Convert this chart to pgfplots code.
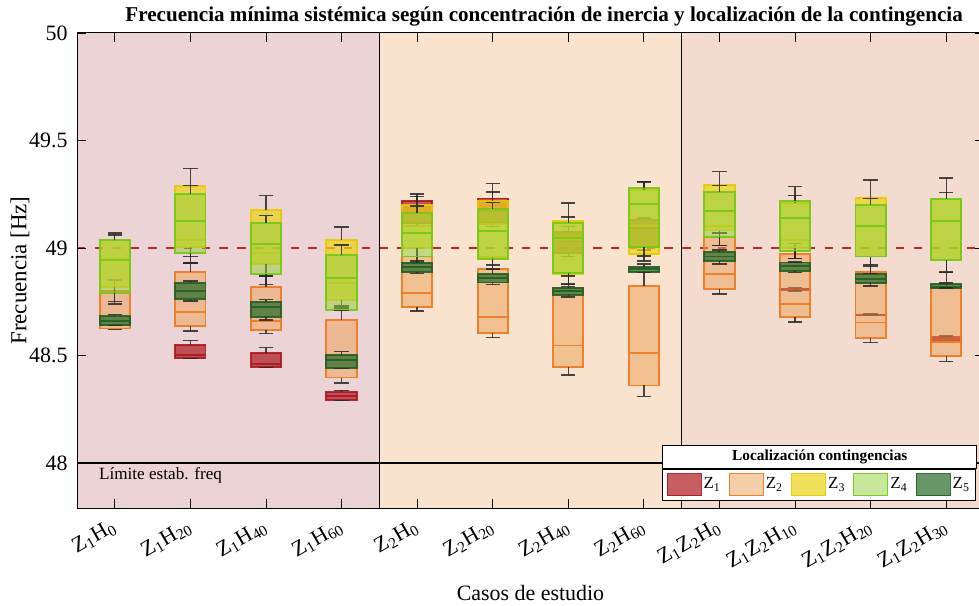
\documentclass[border=0pt]{standalone}
\usepackage{fontspec}
\setmainfont{Liberation Serif}
\usepackage{pgfplots}
\pgfplotsset{compat=1.18}
\usetikzlibrary{calc}
\definecolor{bga}{RGB}{236,211,213}
\definecolor{bgb}{RGB}{249,227,207}
\definecolor{bgc}{RGB}{243,219,208}
\definecolor{z1f}{RGB}{175,25,30}
\definecolor{z1d}{RGB}{170,25,35}
\definecolor{z2f}{RGB}{237,160,85}
\definecolor{z2d}{RGB}{237,125,35}
\definecolor{z3f}{RGB}{235,212,20}
\definecolor{z3d}{RGB}{232,200,0}
\definecolor{z4f}{RGB}{145,209,59}
\definecolor{z4d}{RGB}{120,200,25}
\definecolor{z5f}{RGB}{40,106,40}
\definecolor{z5d}{RGB}{35,95,35}
\definecolor{wh}{RGB}{40,40,40}
\definecolor{redl}{RGB}{192,40,40}
\pgfplotsset{
  z1/.style={draw=z1d, fill=z1f, fill opacity=0.7, draw opacity=0.9},
  z2/.style={draw=z2d, fill=z2f, fill opacity=0.5, draw opacity=0.95},
  z3/.style={draw=z3d, fill=z3f, fill opacity=0.7, draw opacity=0.9},
  z4/.style={draw=z4d, fill=z4f, fill opacity=0.5, draw opacity=0.95},
  z5/.style={draw=z5d, fill=z5f, fill opacity=0.7, draw opacity=0.9},
  whk/.style={draw=wh, draw opacity=0.85, line width=0.7bp, forget plot},
}
% #1 style, #2 position, #3 lower whisker, #4 lower quartile, #5 median, #6 upper quartile, #7 upper whisker
\newcommand{\bx}[7]{%
  \pgfmathsetmacro\bxl{#2-0.2}%
  \pgfmathsetmacro\bxr{#2+0.2}%
  \pgfmathsetmacro\cxl{#2-0.095}%
  \pgfmathsetmacro\cxr{#2+0.095}%
  \edef\bxdoit{%
    \noexpand\addplot[#1, forget plot, line width=0.95bp] coordinates {(\bxl,#4) (\bxr,#4) (\bxr,#6) (\bxl,#6)} --cycle;
    \noexpand\addplot[#1, forget plot, fill=none, line width=0.95bp] coordinates {(\bxl,#5) (\bxr,#5)};
    \noexpand\addplot[whk] coordinates {(#2,#3) (#2,#4)};
    \noexpand\addplot[whk] coordinates {(#2,#6) (#2,#7)};
    \noexpand\addplot[whk] coordinates {(\cxl,#3) (\cxr,#3)};
    \noexpand\addplot[whk] coordinates {(\cxl,#7) (\cxr,#7)};
  }\bxdoit}
\begin{document}
\begin{tikzpicture}
\begin{axis}[
  at={(0,0)}, anchor=south west,
  width=453.5bp, height=237.5bp, scale only axis,
  xmin=0.5, xmax=12.5, ymin=47.79, ymax=50,
  axis on top,
  xtick={1,2,3,4,5,6,7,8,9,10,11,12},
  xticklabels={{Z\textsubscript{1}H\textsubscript{0}},{Z\textsubscript{1}H\textsubscript{20}},{Z\textsubscript{1}H\textsubscript{40}},{Z\textsubscript{1}H\textsubscript{60}},{Z\textsubscript{2}H\textsubscript{0}},{Z\textsubscript{2}H\textsubscript{20}},{Z\textsubscript{2}H\textsubscript{40}},{Z\textsubscript{2}H\textsubscript{60}},{Z\textsubscript{1}Z\textsubscript{2}H\textsubscript{0}},{Z\textsubscript{1}Z\textsubscript{2}H\textsubscript{10}},{Z\textsubscript{1}Z\textsubscript{2}H\textsubscript{20}},{Z\textsubscript{1}Z\textsubscript{2}H\textsubscript{30}}},
  ytick={48,48.5,49,49.5,50},
  yticklabels={48,48.5,49,49.5,50},
  tick align=inside, major tick length=4.5bp,
  tick style={black, line width=0.4bp},
  axis line style={black, line width=0.5bp},
  xticklabel style={font=\fontsize{11}{13}\selectfont, yshift=-8.5bp, rotate=30, anchor=east, inner sep=0pt},
  yticklabel style={font=\fontsize{11}{13}\selectfont, inner sep=0pt, xshift=-4.5bp},
  xlabel={Casos de estudio},
  xlabel style={font=\fontsize{11}{13}\selectfont, at={(axis description cs:0.5,-0.1937)}, anchor=base},
  ylabel={Frecuencia [Hz]},
  ylabel style={font=\fontsize{11.5}{13}\selectfont, at={(axis description cs:-0.0628,0.5)}, anchor=center, rotate=0},
  title={Frecuencia mínima sistémica según concentración de inercia y localización de la contingencia},
  every axis title/.style={font=\fontsize{10.6}{12}\bfseries, at={(axis description cs:0.515,1)}, anchor=base, yshift=5.5bp},
  legend columns=5,
  legend image code/.code={\draw[#1] (0bp,-5.5bp) rectangle (17bp,5.5bp);},
  legend style={name=leg, at={(rel axis cs:0.9917,0.015)}, anchor=south east, draw=black, line width=0.5bp, font=\fontsize{8.5}{9}\selectfont, inner sep=2bp, /tikz/every even column/.append style={column sep=3bp}, nodes={inner sep=1bp}},
]
\fill[bga] (axis cs:0.5,47.79) rectangle (axis cs:4.5,50);
\fill[bgb] (axis cs:4.5,47.79) rectangle (axis cs:8.5,50);
\fill[bgc] (axis cs:8.5,47.79) rectangle (axis cs:12.5,50);
\draw[black, line width=0.75bp] (axis cs:4.5,47.79) -- (axis cs:4.5,50);
\draw[black, line width=0.75bp] (axis cs:8.5,47.79) -- (axis cs:8.5,50);
\addplot[forget plot, black, line width=1bp] coordinates {(0.5,48) (12.5,48)};
\addplot[forget plot, redl, line width=1.25bp, dash pattern=on 4.2bp off 4.7bp] coordinates {(0.5,49) (12.5,49)};
\node[anchor=base west, font=\fontsize{8.6}{10}\selectfont] at (axis cs:0.7,47.921) {Límite estab. freq};
% Z1
\bx{z1}{2}{48.485}{48.488}{48.50}{48.549}{48.57}
\bx{z1}{3}{48.445}{48.447}{48.46}{48.513}{48.536}
\bx{z1}{4}{48.29}{48.293}{48.31}{48.33}{48.337}
\bx{z1}{5}{49.10}{49.115}{49.16}{49.219}{49.24}
\bx{z1}{6}{49.10}{49.115}{49.17}{49.23}{49.26}
\bx{z1}{7}{48.96}{48.978}{49.03}{49.076}{49.10}
\bx{z1}{8}{48.99}{49.003}{49.092}{49.13}{49.14}
\bx{z1}{10}{48.80}{48.806}{48.807}{48.808}{48.815}
\bx{z1}{11}{48.685}{48.687}{48.688}{48.689}{48.692}
\bx{z1}{12}{48.56}{48.567}{48.577}{48.585}{48.59}
% Z2
\bx{z2}{1}{48.62}{48.625}{48.66}{48.80}{48.85}
\bx{z2}{2}{48.614}{48.637}{48.70}{48.89}{48.93}
\bx{z2}{3}{48.603}{48.617}{48.659}{48.817}{48.87}
\bx{z2}{4}{48.371}{48.397}{48.48}{48.664}{48.72}
\bx{z2}{5}{48.707}{48.727}{48.789}{48.96}{49.0}
\bx{z2}{6}{48.583}{48.606}{48.678}{48.904}{48.95}
\bx{z2}{7}{48.409}{48.445}{48.546}{48.815}{48.87}
\bx{z2}{8}{48.31}{48.36}{48.513}{48.822}{48.89}
\bx{z2}{9}{48.785}{48.808}{48.878}{49.05}{49.07}
\bx{z2}{10}{48.656}{48.678}{48.738}{48.97}{49.02}
\bx{z2}{11}{48.56}{48.583}{48.653}{48.89}{48.92}
\bx{z2}{12}{48.473}{48.496}{48.564}{48.813}{48.89}
% Z3
\bx{z3}{1}{48.75}{48.82}{48.95}{49.037}{49.06}
\bx{z3}{2}{48.96}{49.006}{49.037}{49.29}{49.37}
\bx{z3}{3}{48.87}{48.924}{48.975}{49.175}{49.243}
\bx{z3}{4}{48.73}{48.758}{48.836}{49.037}{49.098}
\bx{z3}{5}{48.96}{48.999}{49.10}{49.20}{49.25}
\bx{z3}{6}{48.90}{48.957}{49.11}{49.22}{49.30}
\bx{z3}{7}{48.83}{48.878}{49.04}{49.126}{49.209}
\bx{z3}{8}{48.94}{48.97}{49.10}{49.27}{49.31}
\bx{z3}{9}{49.011}{49.081}{49.104}{49.293}{49.355}
\bx{z3}{10}{48.95}{49.0}{49.037}{49.21}{49.245}
\bx{z3}{11}{48.88}{48.96}{49.10}{49.231}{49.316}
\bx{z3}{12}{48.887}{48.944}{49.124}{49.226}{49.326}
% Z4
\bx{z4}{1}{48.74}{48.789}{48.944}{49.037}{49.07}
\bx{z4}{2}{48.93}{48.975}{49.127}{49.25}{49.29}
\bx{z4}{3}{48.83}{48.878}{49.02}{49.118}{49.15}
\bx{z4}{4}{48.71}{48.712}{48.859}{48.967}{49.013}
\bx{z4}{5}{48.93}{48.96}{49.071}{49.161}{49.195}
\bx{z4}{6}{48.92}{48.947}{49.08}{49.18}{49.21}
\bx{z4}{7}{48.833}{48.885}{49.045}{49.118}{49.143}
\bx{z4}{8}{48.963}{49.003}{49.203}{49.28}{49.307}
\bx{z4}{9}{49.011}{49.05}{49.172}{49.259}{49.29}
\bx{z4}{10}{48.95}{48.987}{49.138}{49.22}{49.285}
\bx{z4}{11}{48.915}{48.96}{49.10}{49.20}{49.23}
\bx{z4}{12}{48.887}{48.944}{49.124}{49.226}{49.259}
% Z5
\bx{z5}{1}{48.64}{48.642}{48.66}{48.684}{48.69}
\bx{z5}{2}{48.753}{48.764}{48.80}{48.836}{48.846}
\bx{z5}{3}{48.664}{48.677}{48.724}{48.75}{48.76}
\bx{z5}{4}{48.44}{48.443}{48.478}{48.502}{48.518}
\bx{z5}{5}{48.882}{48.89}{48.91}{48.929}{48.94}
\bx{z5}{6}{48.83}{48.839}{48.859}{48.879}{48.902}
\bx{z5}{7}{48.772}{48.781}{48.80}{48.815}{48.82}
\bx{z5}{8}{48.885}{48.888}{48.90}{48.913}{48.926}
\bx{z5}{9}{48.926}{48.94}{48.96}{48.983}{48.99}
\bx{z5}{10}{48.887}{48.894}{48.915}{48.932}{48.935}
\bx{z5}{11}{48.822}{48.836}{48.857}{48.878}{48.882}
\bx{z5}{12}{48.813}{48.814}{48.82}{48.834}{48.836}
\addlegendimage{z1}\addlegendentry{Z\textsubscript{1}}
\addlegendimage{z2}\addlegendentry{Z\textsubscript{2}}
\addlegendimage{z3}\addlegendentry{Z\textsubscript{3}}
\addlegendimage{z4}\addlegendentry{Z\textsubscript{4}}
\addlegendimage{z5}\addlegendentry{Z\textsubscript{5}}
\end{axis}
\path let \p1=(leg.north west), \p2=(leg.north east) in node[draw=black, line width=0.5bp, fill=white, anchor=south west, minimum width={\x2-\x1}, minimum height=11.5bp, inner sep=0pt, font=\fontsize{7.7}{9}\selectfont\bfseries] at (\p1) {Localización contingencias};
\pgfresetboundingbox
\path[use as bounding box] (-38.5bp,-49bp) rectangle (451bp,254bp);
\end{tikzpicture}
\end{document}
